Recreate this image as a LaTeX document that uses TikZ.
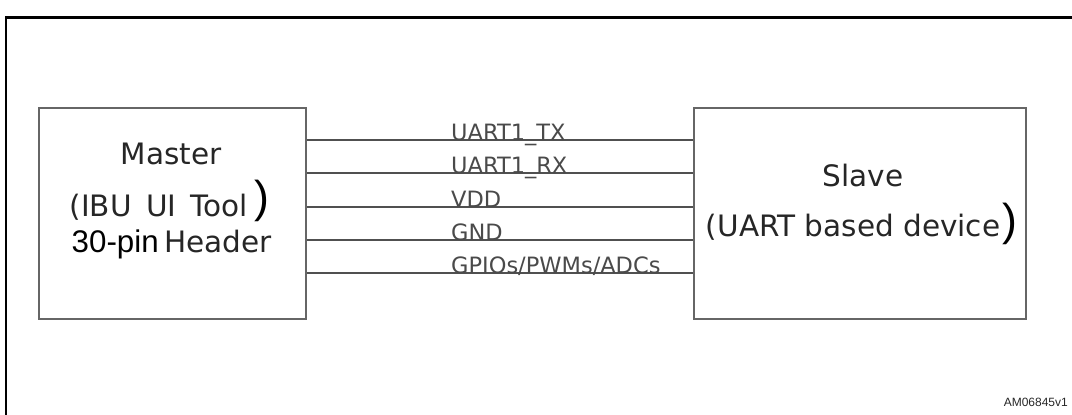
\documentclass[tikz,border=0pt]{standalone}
\usepackage{fontspec}
\setmainfont{DejaVu Sans}
\newfontfamily\arialfont{Liberation Sans}
\definecolor{boxtext}{HTML}{262626}
\definecolor{wiretext}{HTML}{4A4A4A}
\definecolor{wirecol}{HTML}{505050}
\definecolor{boxcol}{HTML}{666666}
\tikzset{
  frame/.style={line width=2.6pt, black},
  block/.style={draw=boxcol, line width=2pt, inner sep=0pt, minimum height=210.4pt},
  wire/.style={draw=wirecol, line width=1.8pt},
  wlabel/.style={anchor=base west, inner sep=0pt, text=wiretext, font=\fontsize{22.5}{24}\selectfont},
  btext/.style={inner sep=0pt, text=boxtext, font=\fontsize{29.5}{31}\selectfont},
  bigparen/.style={anchor=base west, inner sep=0pt, text=black, font=\arialfont\fontsize{44.7}{46}\selectfont},
  pintext/.style={anchor=base west, inner sep=0pt, text=black, font=\arialfont\fontsize{31.3}{33}\selectfont},
  idtext/.style={anchor=base east, inner sep=0pt, text=black!85, font=\arialfont\fontsize{12}{13}\selectfont},
}
\begin{document}
\begin{tikzpicture}[x=1pt, y=-1pt]
\useasboundingbox (0,0) rectangle (1072,415);
% outer frame (top and left edges only visible)
\coordinate (frtl) at (6,17.5);
\coordinate (frtr) at (1072,17.5);
\coordinate (frbl) at (6,415);
\draw[frame] (frtr) -- (frtl) -- (frbl);
% blocks
\node[block, minimum width=266.7pt, anchor=north west] (master) at (38.3,107.3) {};
\node[block, minimum width=332.3pt, anchor=north west] (slave) at (692.7,107.3) {};
% master text
\node[btext, anchor=base] (mastert) at (171,164) {Master};
\node[btext, anchor=base west] (ibu) at (69.5,216) {(IBU\hspace{5pt} UI\hspace{5pt} Tool};
\node[bigparen] (ibup) at (254,212.5) {)};
\node[pintext] (pin) at (71.5,252.7) {30-pin};
\node[btext, anchor=base west] (header) at (164,252.7) {Header};
% slave text
\node[btext, anchor=base] (slavet) at (863,186.7) {Slave};
\node[btext, anchor=base west] (uartdev) at (705.7,236.7) {(UART based device};
\node[bigparen] (uartp) at (1002,235.5) {)};
% wires
\coordinate (w1) at (0,140);
\coordinate (w2) at (0,173);
\coordinate (w3) at (0,207);
\coordinate (w4) at (0,240);
\coordinate (w5) at (0,273.3);
\draw[wire] (master.east |- w1) -- node[wlabel, pos=0.3714] (l1) {UART1\_TX} (slave.west |- w1);
\draw[wire] (master.east |- w2) -- node[wlabel, pos=0.3714] (l2) {UART1\_RX} (slave.west |- w2);
\draw[wire] (master.east |- w3) -- node[wlabel, pos=0.3714] (l3) {VDD} (slave.west |- w3);
\draw[wire] (master.east |- w4) -- node[wlabel, pos=0.3714] (l4) {GND} (slave.west |- w4);
\draw[wire] (master.east |- w5) -- node[wlabel, pos=0.3714] (l5) {GPIOs/PWMs/ADCs} (slave.west |- w5);
% id
\node[idtext] (amid) at (1068,406.7) {AM06845v1};
\end{tikzpicture}
\end{document}
